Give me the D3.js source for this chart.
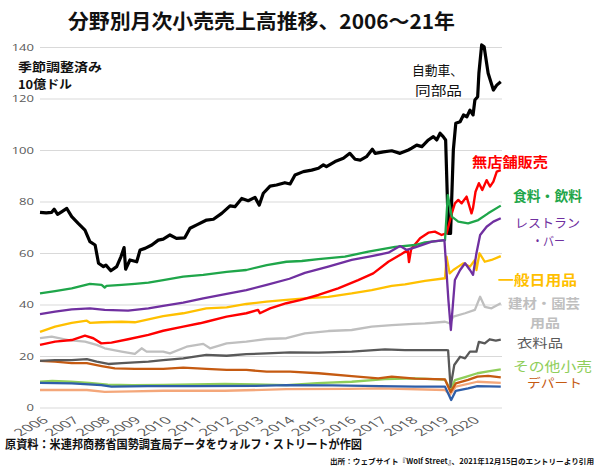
<!DOCTYPE html>
<html><head><meta charset="utf-8">
<script src="https://cdn.jsdelivr.net/npm/d3@7"></script>
<style>body{margin:0;background:#fff}svg{display:block}</style>
</head><body><svg id="c" width="600" height="469"></svg>
<script>
// ---- data (x in chart years) ----
const yearTicks = [2006,2007,2008,2009,2010,2011,2012,2013,2014,2015,2016,2017,2018,2019,2020];
const valueTicks = [0,20,40,60,80,100,120,140];

const autos = [[2006.00,75.8],[2006.20,75.6],[2006.38,75.8],[2006.46,77.0],[2006.57,75.0],[2006.70,76.0],[2006.87,77.3],[2007.03,74.1],[2007.24,71.5],[2007.46,68.9],[2007.62,64.4],[2007.79,63.1],[2007.90,56.0],[2008.06,54.7],[2008.14,55.3],[2008.30,53.1],[2008.49,54.7],[2008.63,58.6],[2008.73,62.1],[2008.78,53.7],[2008.92,57.3],[2009.14,56.6],[2009.25,61.2],[2009.41,61.8],[2009.63,63.1],[2009.84,65.0],[2010.00,65.4],[2010.22,67.0],[2010.43,65.7],[2010.70,65.9],[2010.87,69.6],[2011.09,70.9],[2011.41,72.8],[2011.63,73.1],[2011.90,75.4],[2012.17,78.3],[2012.33,78.0],[2012.55,81.2],[2012.76,80.3],[2012.98,81.6],[2013.12,78.6],[2013.25,83.2],[2013.47,86.0],[2013.68,86.4],[2013.95,87.3],[2014.12,86.8],[2014.28,90.3],[2014.55,91.6],[2014.82,92.2],[2015.04,92.9],[2015.20,94.2],[2015.30,93.5],[2015.58,95.5],[2015.85,96.8],[2016.06,98.7],[2016.23,96.4],[2016.40,96.1],[2016.60,97.4],[2016.79,100.3],[2016.88,98.7],[2017.15,99.3],[2017.42,99.7],[2017.69,98.7],[2017.96,100.0],[2018.07,100.7],[2018.23,101.9],[2018.40,101.3],[2018.61,103.9],[2018.77,105.2],[2018.88,103.9],[2018.99,106.5],[2019.09,105.2],[2019.17,103.9],[2019.26,67.6],[2019.33,67.6],[2019.42,100.0],[2019.50,110.4],[2019.64,111.0],[2019.75,113.6],[2019.86,112.9],[2019.96,115.5],[2020.06,113.6],[2020.12,119.4],[2020.21,120.7],[2020.25,129.8],[2020.34,140.8],[2020.42,140.1],[2020.55,129.8],[2020.72,123.3],[2020.83,125.2],[2020.96,126.5]];

const foodBev = [[2006.00,44.3],[2006.49,45.2],[2007.03,46.3],[2007.62,48.0],[2008.00,47.6],[2008.10,46.6],[2008.16,47.2],[2008.65,47.6],[2009.08,48.0],[2009.52,48.5],[2010.00,49.5],[2010.65,50.8],[2011.30,51.5],[2012.06,52.7],[2012.70,53.4],[2013.36,55.3],[2014.00,56.6],[2014.50,56.9],[2015.04,57.6],[2015.90,58.6],[2016.66,60.5],[2017.53,62.4],[2018.18,63.1],[2018.50,64.1],[2019.15,65.0],[2019.24,82.5],[2019.37,74.1],[2019.58,72.2],[2019.90,71.5],[2020.23,72.8],[2020.55,75.4],[2020.96,78.4]];

const restaurants = [[2006.00,36.3],[2006.49,37.2],[2007.03,38.1],[2007.62,38.5],[2008.10,37.9],[2008.86,37.6],[2009.52,38.5],[2010.00,39.5],[2010.65,40.7],[2011.30,42.4],[2012.06,44.1],[2012.70,45.6],[2013.36,47.6],[2014.10,50.0],[2014.60,52.3],[2015.36,54.7],[2016.12,57.3],[2016.77,58.8],[2017.31,60.1],[2017.69,62.7],[2017.91,61.2],[2018.18,62.2],[2018.72,64.4],[2019.13,65.0],[2019.26,41.7],[2019.34,30.1],[2019.47,49.5],[2019.64,53.4],[2019.80,56.0],[2019.96,53.4],[2020.06,51.5],[2020.17,59.9],[2020.29,67.0],[2020.50,70.2],[2020.72,72.2],[2020.96,73.5]];

const nonstore = [[2006.00,24.3],[2006.49,25.6],[2007.03,26.2],[2007.46,27.9],[2007.73,26.9],[2007.99,24.9],[2008.32,25.2],[2008.86,26.5],[2009.52,28.2],[2010.00,29.8],[2010.65,31.4],[2011.19,32.7],[2011.40,33.3],[2012.06,35.3],[2012.70,36.6],[2013.08,37.9],[2013.14,36.6],[2013.47,38.5],[2014.00,40.5],[2014.44,41.7],[2015.04,43.7],[2015.68,46.3],[2016.33,49.5],[2016.82,52.1],[2017.31,56.6],[2017.74,59.6],[2017.94,61.2],[2017.98,56.5],[2018.05,61.5],[2018.34,65.7],[2018.61,67.9],[2018.82,68.3],[2019.04,67.0],[2019.20,67.6],[2019.37,75.4],[2019.47,79.3],[2019.58,80.6],[2019.69,79.3],[2019.85,81.9],[2020.01,75.4],[2020.06,77.5],[2020.14,83.8],[2020.25,87.1],[2020.36,84.5],[2020.50,88.3],[2020.61,85.8],[2020.72,87.7],[2020.83,91.6],[2020.96,92.2]];

const generalMerch = [[2006.00,29.4],[2006.49,31.4],[2007.03,32.9],[2007.52,33.7],[2007.62,32.9],[2008.00,33.1],[2008.65,33.3],[2009.08,33.1],[2009.52,34.2],[2010.00,35.5],[2010.65,36.6],[2011.40,38.5],[2012.06,38.9],[2012.70,40.2],[2013.36,41.1],[2014.00,41.8],[2014.60,42.4],[2015.36,43.0],[2016.12,44.3],[2016.77,45.6],[2017.42,47.2],[2017.85,47.8],[2018.50,49.2],[2019.15,50.2],[2019.20,58.6],[2019.30,52.1],[2019.42,53.4],[2019.58,54.7],[2019.75,56.0],[2019.96,54.7],[2020.12,57.3],[2020.17,53.4],[2020.27,59.9],[2020.44,56.6],[2020.66,57.3],[2020.96,58.8]];

const buildingGarden = [[2006.00,26.9],[2006.38,27.5],[2006.92,26.2],[2007.46,25.6],[2007.84,24.3],[2008.10,23.0],[2008.65,21.7],[2009.08,20.8],[2009.30,23.0],[2009.46,21.7],[2010.00,21.7],[2010.22,21.0],[2010.76,23.6],[2011.30,24.7],[2011.52,23.0],[2012.06,24.9],[2012.70,25.6],[2013.36,26.6],[2014.00,26.9],[2014.60,28.8],[2015.36,29.7],[2016.12,30.1],[2016.77,31.4],[2017.42,32.0],[2018.12,32.5],[2018.50,32.7],[2019.15,33.3],[2019.31,32.7],[2019.42,35.3],[2019.80,36.6],[2020.12,37.9],[2020.29,43.0],[2020.44,39.1],[2020.66,38.5],[2020.96,40.5]];

const clothing = [[2006.00,18.1],[2006.49,18.4],[2007.03,18.4],[2007.52,18.8],[2007.84,17.8],[2008.22,16.9],[2008.65,17.2],[2009.08,17.5],[2009.52,17.8],[2010.00,18.4],[2010.65,19.1],[2011.40,20.4],[2012.06,20.1],[2012.70,20.7],[2013.36,21.0],[2014.12,21.4],[2015.04,21.3],[2016.12,21.7],[2017.20,22.6],[2017.85,22.3],[2019.20,22.3],[2019.25,22.2],[2019.33,8.0],[2019.45,16.5],[2019.64,19.7],[2019.80,19.1],[2019.96,21.7],[2020.17,21.7],[2020.25,25.5],[2020.44,24.9],[2020.60,26.5],[2020.80,26.0],[2020.96,26.4]];

const department = [[2006.00,18.1],[2006.49,17.8],[2007.03,17.2],[2007.52,17.2],[2008.00,16.1],[2008.43,15.2],[2009.08,15.0],[2010.00,15.0],[2010.65,15.5],[2011.40,15.0],[2012.06,14.6],[2012.70,14.6],[2013.36,13.9],[2014.12,13.9],[2015.04,13.3],[2016.12,12.2],[2016.98,11.3],[2017.42,12.0],[2018.18,11.2],[2019.15,10.9],[2019.33,6.0],[2019.50,9.4],[2019.90,10.7],[2020.20,12.0],[2020.55,12.3],[2020.96,11.7]];

const otherRetail = [[2006.00,10.0],[2006.40,10.3],[2007.00,10.0],[2007.60,9.6],[2008.20,8.9],[2009.00,8.7],[2010.00,8.8],[2011.00,9.0],[2012.00,9.2],[2013.00,9.0],[2014.00,8.7],[2015.00,9.5],[2016.12,10.0],[2017.20,11.0],[2018.18,11.3],[2019.15,10.8],[2019.33,6.8],[2019.47,10.6],[2019.80,11.8],[2020.20,13.3],[2020.55,14.0],[2020.96,14.8]];

const blueSeries = [[2006.00,9.6],[2007.03,9.4],[2007.99,8.7],[2008.32,8.1],[2009.50,8.3],[2011.00,8.3],[2013.00,8.4],[2014.00,8.7],[2015.50,8.6],[2017.04,8.3],[2018.18,8.1],[2019.15,8.1],[2019.35,2.9],[2019.50,6.5],[2019.90,7.4],[2020.20,8.3],[2020.96,8.1]];

const salmonSeries = [[2006.00,6.8],[2007.52,6.8],[2008.10,6.1],[2009.00,6.3],[2010.00,6.5],[2012.00,6.5],[2014.00,7.1],[2016.00,7.2],[2017.04,7.4],[2019.15,6.8],[2019.31,4.9],[2019.50,8.1],[2020.20,10.0],[2020.96,9.6]];

// ---- drawing ----
const series = [
  {data: autos, color: "#000000", w: 3.2},
  {data: salmonSeries, color: "#f4a77a", w: 2.3},
  {data: otherRetail, color: "#8fce5a", w: 2.3},
  {data: blueSeries, color: "#2f5ea8", w: 2.3},
  {data: department, color: "#c55a11", w: 2.3},
  {data: clothing, color: "#595959", w: 2.3},
  {data: buildingGarden, color: "#bfbfbf", w: 2.3},
  {data: generalMerch, color: "#ffc000", w: 2.3},
  {data: nonstore, color: "#ff0000", w: 2.4},
  {data: foodBev, color: "#1fa64a", w: 2.3},
  {data: restaurants, color: "#7030a0", w: 2.3}
];

const svg = d3.select("#c");
const x = d3.scaleLinear().domain([2006, 2021]).range([40, 502]);
const y = d3.scaleLinear().domain([0, 140]).range([407.5, 47]);

const yAxis = svg.append("g").attr("transform", "translate(40,0)")
  .call(d3.axisLeft(y).tickValues(valueTicks).tickSize(-462).tickPadding(0));
yAxis.select(".domain").remove();
yAxis.selectAll(".tick line").attr("stroke", "#d9d9d9").attr("stroke-width", 1);
yAxis.selectAll(".tick text")
  .attr("x", 0).attr("dy", "0.35em")
  .attr("transform", "translate(-6,0) scale(1.45,1)")
  .attr("fill", "#595959").style("font-family", "'Open Sans', sans-serif").style("font-size", "9px");

const xAxis = svg.append("g").attr("transform", "translate(0,407.5)")
  .call(d3.axisBottom(x).tickValues(yearTicks).tickSize(0).tickFormat(d3.format("d")));
xAxis.select(".domain").remove();
xAxis.selectAll(".tick text")
  .attr("x", 0).attr("y", 0).attr("dy", "0.35em")
  .attr("text-anchor", "end")
  .attr("transform", "translate(5,11) scale(1.7,1) rotate(-42)")
  .attr("fill", "#595959").style("font-family", "'Open Sans', sans-serif").style("font-size", "10px");

const line = d3.line().x(d => x(d[0])).y(d => y(d[1]));
svg.append("g").selectAll("path").data(series).join("path")
  .attr("d", d => line(d.data))
  .attr("fill", "none")
  .attr("stroke", d => d.color)
  .attr("stroke-width", d => d.w)
  .attr("stroke-linejoin", "round");

const JP = "'Noto Sans CJK JP', sans-serif";
function label(t, x0, yb, len, size, color, weight) {
  svg.append("text").text(t).attr("x", x0).attr("y", yb)
    .attr("textLength", len).attr("lengthAdjust", "spacingAndGlyphs")
    .attr("fill", color).style("font-family", JP)
    .style("font-size", size + "px").style("font-weight", weight || "normal");
}
label("分野別月次小売売上高推移、2006～21年", 68, 29, 387, 20, "#111", "bold");
label("季節調整済み", 18, 72, 84, 12, "#111", "bold");
label("10億ドル", 18, 89, 54, 12, "#111", "bold");
label("自動車、", 412, 75, 51, 13, "#111", "normal");
label("同部品", 415, 95, 47, 13, "#111", "normal");
label("無店舗販売", 472, 167, 76, 14, "#ff0000", "bold");
label("食料・飲料", 513, 201, 69, 13.5, "#1fa64a", "bold");
label("レストラン", 515, 228, 65, 12.5, "#7030a0", "normal");
label("・バー", 532, 246, 33, 12.5, "#7030a0", "normal");
label("一般日用品", 498, 285, 79, 14, "#ffc000", "bold");
label("建材・園芸", 508, 308, 72, 13, "#bfbfbf", "bold");
label("用品", 530, 328, 30, 12.5, "#bfbfbf", "bold");
label("衣料品", 517, 348, 46, 12.5, "#595959", "normal");
label("その他小売", 513, 371, 79, 13, "#8fce5a", "normal");
label("デパート", 527, 388, 55, 12, "#c55a11", "normal");
label("原資料：米連邦商務省国勢調査局データをウォルフ・ストリートが作図", 5, 449, 357, 12, "#111", "bold");
label("出所：ウェブサイト『Wolf Street』、2021年12月15日のエントリーより引用", 330, 464, 264, 7.4, "#111", "bold");
</script>
</body></html>
